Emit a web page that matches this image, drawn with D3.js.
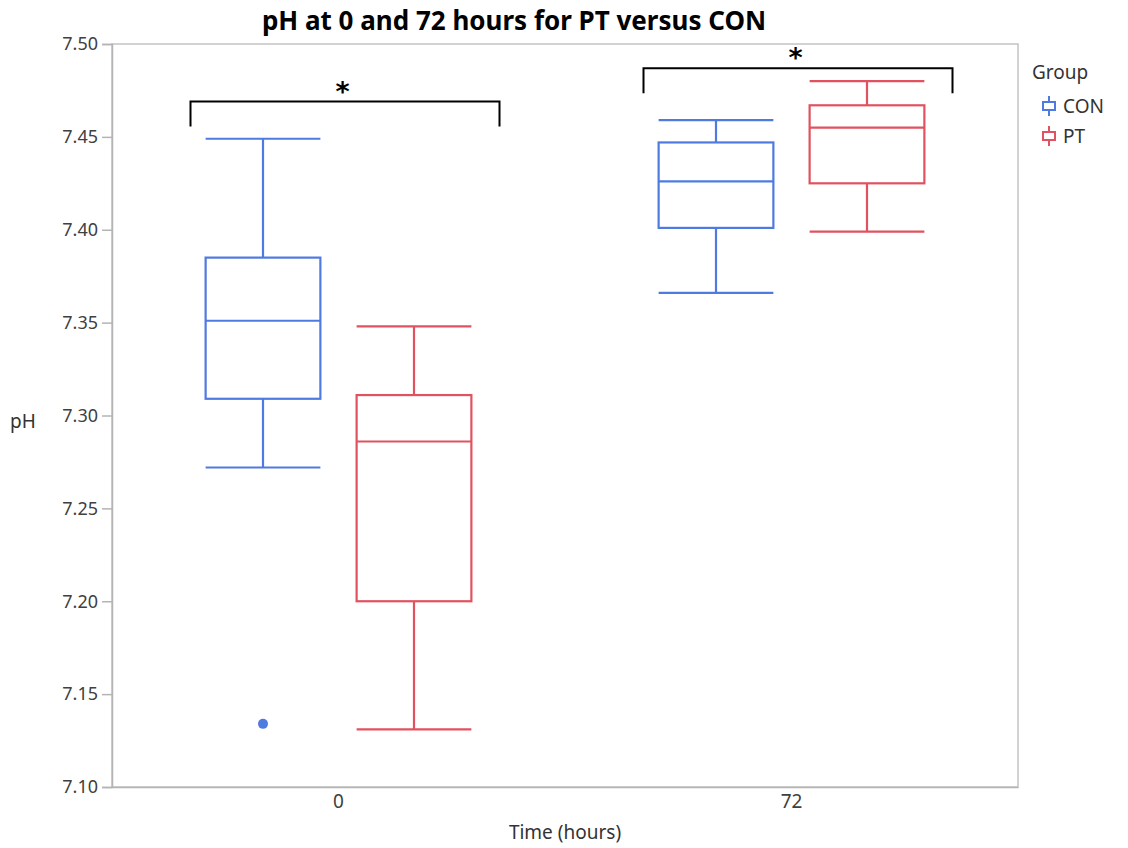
<!DOCTYPE html>
<html>
<head>
<meta charset="UTF-8">
<script src="https://d3js.org/d3.v7.min.js"></script>
<style>
  body { margin: 0; background: #fff; font-family: "Noto Sans", "Open Sans", sans-serif; }
</style>
</head>
<body>
<div id="chart"></div>
<script>
// data
const times = ['0', '72'];
const groups = ['CON', 'PT'];
const colors = { CON: '#4f7be0', PT: '#e0525f' };
// [lower whisker, q1, median, q3, upper whisker]
const boxStats = [
  { time: '0',  group: 'CON', v: [7.272, 7.309, 7.351, 7.385, 7.449] },
  { time: '0',  group: 'PT',  v: [7.131, 7.200, 7.286, 7.311, 7.348] },
  { time: '72', group: 'CON', v: [7.366, 7.401, 7.426, 7.447, 7.459] },
  { time: '72', group: 'PT',  v: [7.399, 7.425, 7.455, 7.467, 7.480] }
];
const outliers = [{ time: '0', group: 'CON', value: 7.134 }];
const brackets = [
  { time: '0', value: 7.469 },
  { time: '72', value: 7.487 }
];
const yTicks = [7.10, 7.15, 7.20, 7.25, 7.30, 7.35, 7.40, 7.45, 7.50];

const W = 1128, H = 848;
const margin = { top: 44, right: 110, bottom: 61, left: 112 };
const iw = W - margin.left - margin.right;
const ih = H - margin.top - margin.bottom;

const svg = d3.select('#chart').append('svg')
  .attr('width', W).attr('height', H);

const g = svg.append('g').attr('transform', `translate(${margin.left},${margin.top})`);

const x = d3.scaleBand().domain(times).range([0, iw]);
const xs = d3.scaleBand().domain(groups)
  .range([x.bandwidth() / 2 - 151, x.bandwidth() / 2 + 151])
  .paddingInner(0.24).paddingOuter(0.12);
const y = d3.scaleLinear().domain([7.10, 7.50]).range([ih, 0]);

// frame
g.append('rect').attr('x', 0).attr('y', 0).attr('width', iw).attr('height', ih)
  .attr('fill', 'none').attr('stroke', '#c4c4c4').attr('stroke-width', 1.5);

// y axis
const yAxis = g.append('g')
  .call(d3.axisLeft(y).tickValues(yTicks).tickFormat(d3.format('.2f')).tickSize(10).tickPadding(4));
yAxis.select('.domain').attr('stroke', '#b4b4b4').attr('stroke-width', 1.5);
yAxis.selectAll('.tick line').attr('stroke', '#b4b4b4').attr('stroke-width', 1.5);
yAxis.selectAll('.tick text').attr('font-size', 18).attr('fill', '#404040')
  .attr('font-family', '"Noto Sans", sans-serif');

// x axis
const xAxis = g.append('g').attr('transform', `translate(0,${ih})`)
  .call(d3.axisBottom(x).tickSize(0).tickPadding(8));
xAxis.select('.domain').attr('stroke', '#b4b4b4').attr('stroke-width', 1.5);
xAxis.selectAll('.tick text').attr('font-size', 19).attr('fill', '#404040')
  .attr('font-family', '"Noto Sans", sans-serif');

// boxes
const boxes = g.selectAll('.box').data(boxStats).enter().append('g')
  .attr('transform', d => `translate(${x(d.time) + xs(d.group)},0)`)
  .attr('stroke', d => colors[d.group]).attr('stroke-width', 2.2).attr('fill', 'none');

boxes.append('line').attr('x1', xs.bandwidth() / 2).attr('x2', xs.bandwidth() / 2)
  .attr('y1', d => y(d.v[0])).attr('y2', d => y(d.v[1]));
boxes.append('line').attr('x1', xs.bandwidth() / 2).attr('x2', xs.bandwidth() / 2)
  .attr('y1', d => y(d.v[3])).attr('y2', d => y(d.v[4]));
boxes.append('line').attr('x1', 0).attr('x2', xs.bandwidth())
  .attr('y1', d => y(d.v[0])).attr('y2', d => y(d.v[0]));
boxes.append('line').attr('x1', 0).attr('x2', xs.bandwidth())
  .attr('y1', d => y(d.v[4])).attr('y2', d => y(d.v[4]));
boxes.append('rect').attr('x', 0).attr('width', xs.bandwidth())
  .attr('y', d => y(d.v[3])).attr('height', d => y(d.v[1]) - y(d.v[3]));
boxes.append('line').attr('x1', 0).attr('x2', xs.bandwidth())
  .attr('y1', d => y(d.v[2])).attr('y2', d => y(d.v[2]));

// outliers
g.selectAll('.outlier').data(outliers).enter().append('circle')
  .attr('cx', d => x(d.time) + xs(d.group) + xs.bandwidth() / 2)
  .attr('cy', d => y(d.value)).attr('r', 5)
  .attr('fill', d => colors[d.group]);

// significance brackets
const br = g.selectAll('.bracket').data(brackets).enter().append('g');
br.append('path')
  .attr('d', d => {
    const c = x(d.time) + x.bandwidth() / 2;
    const x0 = c - 148, x1 = c + 161, yy = y(d.value);
    return `M${x0},${yy + 25}V${yy}H${x1}V${yy + 25}`;
  })
  .attr('fill', 'none').attr('stroke', '#000').attr('stroke-width', 2);
br.append('text')
  .attr('x', d => x(d.time) + x.bandwidth() / 2 + 4)
  .attr('y', d => y(d.value) - 1)
  .attr('text-anchor', 'middle').attr('font-size', 27).attr('font-weight', 'bold').attr('fill', '#000')
  .attr('font-family', '"DejaVu Sans", sans-serif')
  .text('*');

// title
svg.append('text').attr('x', 514).attr('y', 30).attr('text-anchor', 'middle')
  .attr('font-size', 26).attr('font-weight', 'bold').attr('fill', '#000')
  .text('pH at 0 and 72 hours for PT versus CON');

// axis titles
svg.append('text').attr('x', margin.left + iw / 2).attr('y', 839).attr('text-anchor', 'middle')
  .attr('font-size', 19).attr('fill', '#333').text('Time (hours)');
svg.append('text').attr('x', 10).attr('y', 428)
  .attr('font-size', 19).attr('fill', '#333').text('pH');

// legend
const leg = svg.append('g').attr('transform', 'translate(1032,0)');
leg.append('text').attr('x', 0).attr('y', 79).attr('font-size', 19).attr('fill', '#333').text('Group');
const items = leg.selectAll('.item').data(groups).enter().append('g')
  .attr('transform', (d, i) => `translate(0,${106 + i * 30})`);
items.append('line').attr('x1', 17).attr('x2', 17).attr('y1', -10).attr('y2', 10)
  .attr('stroke', d => colors[d]).attr('stroke-width', 2);
items.append('rect').attr('x', 11).attr('y', -4).attr('width', 12).attr('height', 8)
  .attr('fill', '#fff').attr('stroke', d => colors[d]).attr('stroke-width', 2);
items.append('text').attr('x', 31).attr('y', 7).attr('font-size', 19).attr('fill', '#333').text(d => d);
</script>
</body>
</html>
